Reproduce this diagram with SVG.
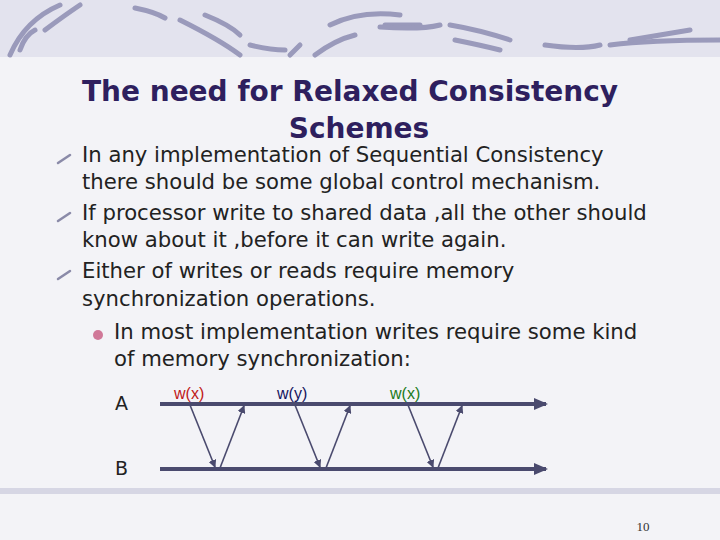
<svg xmlns="http://www.w3.org/2000/svg" width="720" height="540" viewBox="0 0 720 540">
<style>
.t{font-family:"DejaVu Sans",Verdana,sans-serif;font-size:21.2px;fill:#222}
.s{font-family:"Liberation Sans",Arial,sans-serif;font-size:16px}
.ln{stroke:#4a4a6e;stroke-width:4}
.dg{stroke:#4a4a6e;stroke-width:1.6}
.sw{fill:none;stroke:#9a9abb;stroke-linecap:round}
</style>
<defs>
<marker id="ah" markerWidth="8" markerHeight="8" refX="7" refY="4" orient="auto" markerUnits="userSpaceOnUse"><path d="M0,0 L8,4 L0,8z" fill="#4a4a6e"/></marker>
<marker id="ab" markerWidth="14" markerHeight="12" refX="12" refY="6" orient="auto" markerUnits="userSpaceOnUse"><path d="M0,0 L14,6 L0,12z" fill="#4a4a6e"/></marker>
</defs>
<rect width="720" height="540" fill="#f3f3f7"/>
<rect width="720" height="57" fill="#e3e3ee"/>
<g class="sw" stroke-width="5">
<path d="M10,55 Q25,20 60,5"/><path d="M45,30 Q65,15 80,5"/><path d="M20,50 Q25,35 35,30"/>
<path d="M135,8 Q155,12 165,18"/><path d="M180,20 Q220,40 240,55"/><path d="M205,15 Q230,25 240,35"/>
<path d="M250,45 Q270,50 285,50"/><path d="M290,55 L300,45"/><path d="M315,55 Q335,40 355,35"/>
<path d="M330,25 Q360,10 400,15"/><path d="M385,25 L420,25"/><path d="M380,27 Q420,30 440,25"/><path d="M450,25 Q480,30 510,40"/>
<path d="M455,40 Q480,45 500,50"/><path d="M545,45 Q580,50 600,45"/><path d="M610,45 Q650,40 720,40"/><path d="M630,40 Q660,35 690,30"/>
</g>
<rect y="488" width="720" height="6" fill="#d6d6e4"/>
<text x="350" y="101" text-anchor="middle" style="font-family:'DejaVu Sans',Verdana,sans-serif;font-size:28px;font-weight:bold;fill:#2e1f5e">The need for Relaxed Consistency</text>
<text x="359" y="138" text-anchor="middle" style="font-family:'DejaVu Sans',Verdana,sans-serif;font-size:28px;font-weight:bold;fill:#2e1f5e">Schemes</text>
<g stroke="#8a8aa8" stroke-width="2.5" stroke-linecap="round">
<line x1="58" y1="163" x2="70" y2="155"/><line x1="58" y1="221" x2="70" y2="213"/><line x1="58" y1="279" x2="70" y2="271"/>
</g>
<circle cx="98" cy="335" r="5" fill="#d07898"/>
<g class="t">
<text x="82" y="162">In any implementation of Sequential Consistency</text>
<text x="82" y="189">there should be some global control mechanism.</text>
<text x="82" y="220">If processor write to shared data ,all the other should</text>
<text x="82" y="247">know about it ,before it can write again.</text>
<text x="82" y="278">Either of writes or reads require memory</text>
<text x="82" y="306">synchronization operations.</text>
<text x="114" y="339">In most implementation writes require some kind</text>
<text x="114" y="366">of memory synchronization:</text>
<text x="115" y="410" font-size="19">A</text>
<text x="115" y="475" font-size="19">B</text>
</g>
<text class="s" x="174" y="399" fill="#c01818">w(x)</text>
<text class="s" x="277" y="399" fill="#14145e">w(y)</text>
<text class="s" x="390" y="399" fill="#1a7a1a">w(x)</text>
<g id="connectors">
<line class="ln" x1="160" y1="404" x2="546" y2="404" marker-end="url(#ab)"/>
<line class="ln" x1="160" y1="469" x2="546" y2="469" marker-end="url(#ab)"/>
<line class="dg" x1="190" y1="405" x2="215" y2="467" marker-end="url(#ah)"/>
<line class="dg" x1="220" y1="468" x2="244" y2="406" marker-end="url(#ah)"/>
<line class="dg" x1="295" y1="405" x2="320" y2="467" marker-end="url(#ah)"/>
<line class="dg" x1="326" y1="468" x2="350" y2="406" marker-end="url(#ah)"/>
<line class="dg" x1="408" y1="405" x2="433" y2="467" marker-end="url(#ah)"/>
<line class="dg" x1="438" y1="468" x2="462" y2="406" marker-end="url(#ah)"/>
</g>
<text x="643" y="531" text-anchor="middle" style="font-family:'Liberation Serif',serif;font-size:13px;fill:#333">10</text>
</svg>
